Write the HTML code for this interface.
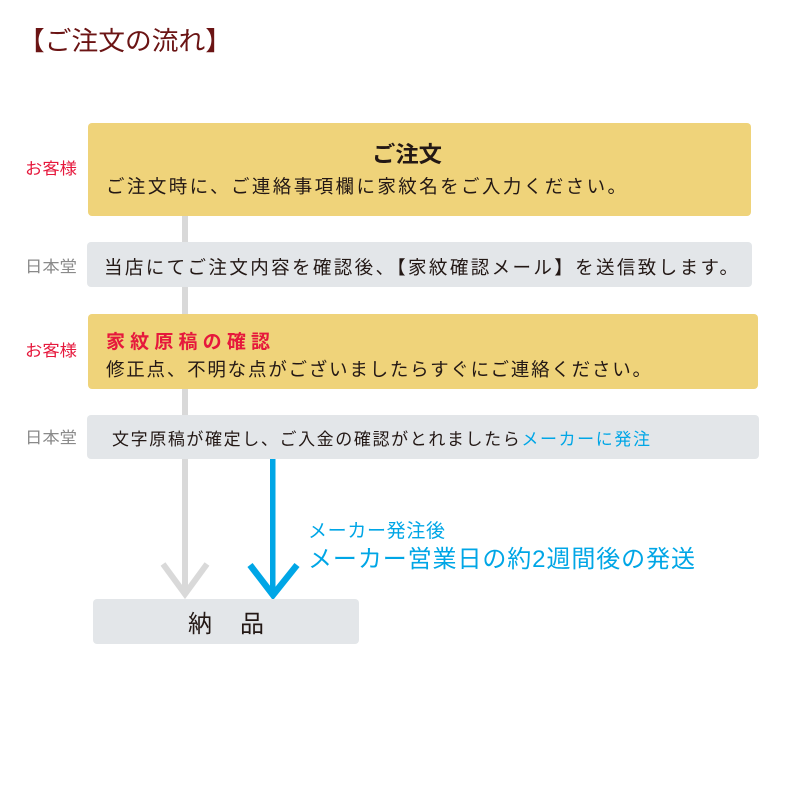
<!DOCTYPE html>
<html><head><meta charset="utf-8"><style>html,body{margin:0;padding:0;background:#fff}</style></head>
<body>
<svg width="800" height="800" xmlns="http://www.w3.org/2000/svg" style="display:block;font-family:'Liberation Sans','Noto Sans CJK JP',sans-serif">
<rect width="800" height="800" fill="#fff"/>
<text x="18" y="50" font-size="26" fill="#6b1414" textLength="214" lengthAdjust="spacingAndGlyphs">【ご注文の流れ】</text>
<rect x="182" y="214" width="6" height="380" fill="#d9d9d9"/>
<polyline points="163,564 185,594 207,564" fill="none" stroke="#d9d9d9" stroke-width="6"/>
<rect x="270" y="458" width="5.5" height="136" fill="#00a6e6"/>
<polyline points="250,565 273,595 297,565" fill="none" stroke="#00a6e6" stroke-width="6.5"/>
<rect x="88" y="123" width="663" height="93" rx="4" fill="#efd37a"/>
<rect x="87" y="242" width="665" height="45" rx="4" fill="#e3e6e9"/>
<rect x="88" y="314" width="670" height="75" rx="4" fill="#efd37a"/>
<rect x="87" y="415" width="672" height="44" rx="4" fill="#e3e6e9"/>
<rect x="93" y="599" width="266" height="45" rx="4" fill="#e3e6e9"/>
<text x="25" y="174" font-size="16" fill="#e6183c" textLength="52" lengthAdjust="spacingAndGlyphs">お客様</text>
<text x="25" y="272" font-size="16" fill="#8a8a8a" textLength="52" lengthAdjust="spacingAndGlyphs">日本堂</text>
<text x="25" y="356" font-size="16" fill="#e6183c" textLength="52" lengthAdjust="spacingAndGlyphs">お客様</text>
<text x="25" y="443" font-size="16" fill="#8a8a8a" textLength="52" lengthAdjust="spacingAndGlyphs">日本堂</text>
<text x="372" y="162" font-size="22" font-weight="bold" fill="#231815" textLength="70" lengthAdjust="spacingAndGlyphs">ご注文</text>
<text x="106" y="193" font-size="18.5" fill="#231815" textLength="520" lengthAdjust="spacing">ご注文時に、ご連絡事項欄に家紋名をご入力ください。</text>
<text x="104" y="274" font-size="18.5" fill="#231815" textLength="634" lengthAdjust="spacing">当店にてご注文内容を確認後、【家紋確認メール】を送信致します。</text>
<text x="106" y="348" font-size="19" font-weight="bold" fill="#e6183c" textLength="164" lengthAdjust="spacing">家紋原稿の確認</text>
<text x="106" y="376" font-size="18.5" fill="#231815" textLength="545" lengthAdjust="spacing">修正点、不明な点がございましたらすぐにご連絡ください。</text>
<text x="112" y="445" font-size="17" fill="#231815" textLength="538" lengthAdjust="spacing">文字原稿が確定し、ご入金の確認がとれましたら<tspan fill="#00a6e6">メーカーに発注</tspan></text>
<text x="188" y="632" font-size="24" fill="#231815" textLength="76" lengthAdjust="spacing">納　品</text>
<text x="308" y="537" font-size="19" fill="#00a6e6" textLength="137" lengthAdjust="spacing">メーカー発注後</text>
<text x="308" y="567" font-size="24" fill="#00a6e6" textLength="387" lengthAdjust="spacing">メーカー営業日の約2週間後の発送</text>
</svg>
</body></html>
